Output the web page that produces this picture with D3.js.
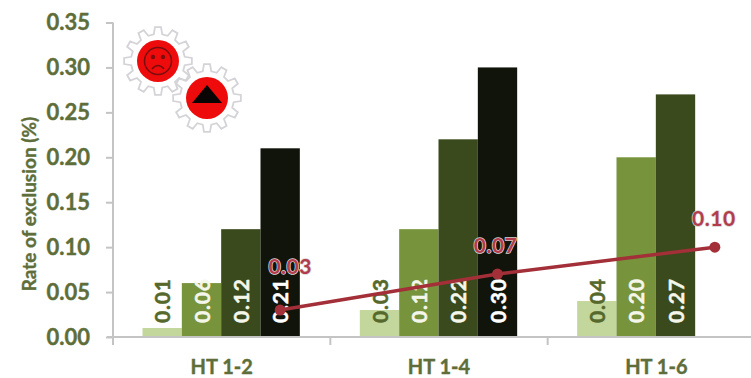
<!DOCTYPE html>
<html>
<head>
<meta charset="utf-8">
<script src="https://cdn.jsdelivr.net/npm/d3@7/dist/d3.min.js"></script>
<style>
  html, body { margin: 0; padding: 0; background: #fff; }
  svg { display: block; }
  text { font-family: Lato, "Open Sans", sans-serif; font-weight: 700; }
</style>
</head>
<body>
<div id="chart"></div>
<script>
// Exclusion rate per heat-treatment group
const categories = ["HT 1-2", "HT 1-4", "HT 1-6"];
const seriesNames = ["a", "b", "c", "d"];
const seriesA = [0.01, 0.03, 0.04];
const seriesB = [0.06, 0.12, 0.20];
const seriesC = [0.12, 0.22, 0.27];
const seriesD = [0.21, 0.30, null];
const lineValues = [0.03, 0.07, 0.10];
const yTicks = [0, 0.05, 0.10, 0.15, 0.20, 0.25, 0.30, 0.35];

const barColors = ["#c3d69b", "#77933c", "#3a4a1c", "#10140a"];
const labelColors = ["#56682c", "#f4f6ea", "#f4f6ea", "#ffffff"];
const axisGrey = "#c4c4c4";
const textGreen = "#5e6e3a";
const lineRed = "#a32f38";
const labelRed = "#b23c4c";

const W = 751, H = 378;
const font = "Lato, 'Open Sans', sans-serif";
const svg = d3.select("#chart").append("svg").attr("width", W).attr("height", H);

const y = d3.scaleLinear().domain([0, 0.35]).range([337, 22.5]);
const x = d3.scaleBand().domain(categories).range([113, 765]);
// Bars occupy the middle of each category, leaving a gap either side
const inner = d3.scaleBand().domain(seriesNames).range([29.5, x.bandwidth() - 30.5]);

const allSeries = [seriesA, seriesB, seriesC, seriesD];
const present = values => values.map((v, i) => ({ v, c: categories[i] })).filter(d => d.v !== null);

// Bars
allSeries.forEach((values, s) => {
  svg.append("g").selectAll("rect")
    .data(present(values))
    .join("rect")
    .attr("x", d => x(d.c) + inner(seriesNames[s]))
    .attr("width", inner.bandwidth())
    .attr("y", d => y(d.v))
    .attr("height", d => y(0) - y(d.v))
    .attr("fill", barColors[s]);
});

// Y axis
const yAxis = svg.append("g").attr("transform", "translate(113,0)")
  .call(d3.axisLeft(y).tickValues(yTicks).tickFormat(d3.format(".2f")).tickSize(7).tickPadding(16));
yAxis.selectAll("path, line").attr("stroke", axisGrey).attr("stroke-width", 2);
yAxis.select(".domain").attr("d", `M0,${y(0.35)}V${y(0)}`);
yAxis.selectAll("text").attr("fill", textGreen).attr("font-size", 22)
  .attr("stroke", textGreen).attr("stroke-width", 0.4)
  .style("font-family", font).style("font-weight", 700);

// X axis: labels centred on bands, ticks on band boundaries
const xAxis = svg.append("g").attr("transform", `translate(0,${y(0)})`)
  .call(d3.axisBottom(x).tickSize(0).tickPadding(23));
xAxis.select(".domain").attr("stroke", axisGrey).attr("stroke-width", 2).attr("d", `M107,0H${W}`);
xAxis.selectAll("text").attr("fill", textGreen).attr("font-size", 20)
  .attr("stroke", textGreen).attr("stroke-width", 0.4)
  .style("font-family", font).style("font-weight", 700);
svg.append("g").selectAll("line")
  .data(categories)
  .join("line")
  .attr("x1", d => x(d)).attr("x2", d => x(d))
  .attr("y1", y(0)).attr("y2", y(0) + 8)
  .attr("stroke", axisGrey).attr("stroke-width", 2);

// Rotated value labels inside the bars
allSeries.forEach((values, s) => {
  svg.append("g").selectAll("text")
    .data(present(values))
    .join("text")
    .attr("transform", d => {
      const cx = x(d.c) + inner(seriesNames[s]) + inner.bandwidth() / 2;
      return `translate(${cx + 8},${y(0) - 14}) rotate(-90)`;
    })
    .attr("fill", labelColors[s])
    .attr("stroke", labelColors[s]).attr("stroke-width", 0.5)
    .attr("font-size", 21)
    .attr("letter-spacing", 0.8)
    .text(d => d.v.toFixed(2));
});

// Line series, anchored on the last slot of each category
const lineX = c => x(c) + inner(seriesNames[3]) + inner.bandwidth() / 2;
const lineData = categories.map((c, i) => ({ c, v: lineValues[i] }));
svg.append("path")
  .attr("d", d3.line().x(d => lineX(d.c)).y(d => y(d.v))(lineData))
  .attr("fill", "none").attr("stroke", lineRed).attr("stroke-width", 3.5);
svg.append("g").selectAll("circle")
  .data(lineData).join("circle")
  .attr("cx", d => lineX(d.c)).attr("cy", d => y(d.v)).attr("r", 5.5)
  .attr("fill", lineRed);

// Line labels sit above their points; the first is lifted clear of the bar label
const labelShiftX = [10, -2, -1];
const labelLift = [36, 21, 21];
svg.append("g").selectAll("text")
  .data(lineData).join("text")
  .attr("x", (d, i) => lineX(d.c) + labelShiftX[i])
  .attr("y", (d, i) => y(d.v) - labelLift[i])
  .attr("text-anchor", "middle")
  .attr("fill", labelRed)
  .attr("stroke", "#dcd6d6").attr("stroke-width", 1.5)
  .attr("paint-order", "stroke")
  .attr("font-size", 21)
  .attr("letter-spacing", 0.5)
  .text(d => d.v.toFixed(2));

// Y axis title
svg.append("text")
  .attr("transform", "translate(36,204) rotate(-90)")
  .attr("text-anchor", "middle")
  .attr("fill", textGreen)
  .attr("stroke", textGreen).attr("stroke-width", 0.4)
  .attr("font-size", 19)
  .text("Rate of exclusion (%)");

// Gear badges
function gearPath(teeth, rOut, rIn) {
  const pts = [];
  const step = 2 * Math.PI / teeth;
  for (let i = 0; i < teeth; i++) {
    const a = i * step;
    pts.push([a - step * 0.30, rIn], [a - step * 0.17, rOut], [a + step * 0.17, rOut], [a + step * 0.30, rIn]);
  }
  return d3.lineRadial().curve(d3.curveLinearClosed)(pts);
}

function badge(cx, cy) {
  const g = svg.append("g").attr("transform", `translate(${cx},${cy})`);
  g.append("path").attr("d", gearPath(12, 34, 27))
    .attr("fill", "#fff").attr("stroke", "#d4d4d8").attr("stroke-width", 1.8);
  g.append("circle").attr("r", 21).attr("fill", "#ee0b0b");
  return g;
}

const face = badge(158, 61);
face.append("circle").attr("r", 13.5).attr("fill", "none").attr("stroke", "#7a0d0d").attr("stroke-width", 1.5);
face.selectAll("circle.eye").data([-5, 5]).join("circle").attr("class", "eye")
  .attr("cx", d => d).attr("cy", -4).attr("r", 2.2).attr("fill", "#7a0d0d");
face.append("path").attr("d", "M-6,8Q0,1 6,8")
  .attr("fill", "none").attr("stroke", "#7a0d0d").attr("stroke-width", 1.5);

const warn = badge(207, 98);
warn.append("path").attr("d", "M0,-13L15,5H-15Z").attr("fill", "#0a0505");
</script>
</body>
</html>
